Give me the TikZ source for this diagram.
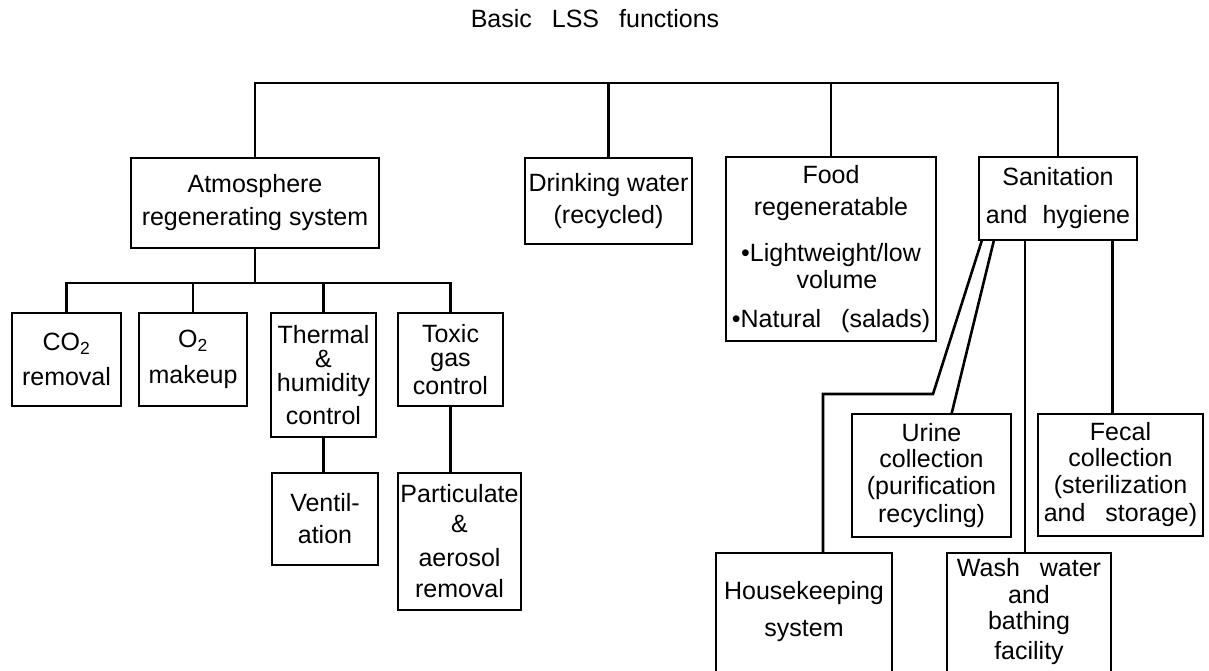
\documentclass[tikz,border=0pt]{standalone}
\usepackage{fontspec}
\setmainfont{Liberation Sans}
\tikzset{box/.style={draw,line width=2.6pt,align=center,inner sep=0pt,outer sep=0pt,anchor=north west},
         openbox/.style={box,draw=none},
         link/.style={line width=2.6pt}
}
\newcommand{\gap}{\hspace{20pt}}

\begin{document}
\begin{tikzpicture}[x=1pt,y=-1pt,font=\fontsize{25}{27}\selectfont]
\useasboundingbox (0,0) rectangle (1209,671);

\node (title) at (595,19) {Basic\gap LSS\gap functions};
\coordinate (bus) at (0,83);
\coordinate (subbus) at (0,283);

% main functions
\node[box,minimum width=248pt,minimum height=90pt] (atmos) at (131,158) {Atmosphere\\[6pt]regenerating system};
\node[box,minimum width=167pt,minimum height=86pt] (drink) at (525,158) {Drinking water\\[5pt](recycled)};
\node[box,minimum width=210pt,minimum height=184pt] (food) at (726,157) {Food\\[5pt]regeneratable\\[19pt]\textbullet Lightweight/low\\\hspace*{12pt}volume\\[12pt]\textbullet Natural\gap(salads)};
\node[box,minimum width=158pt,minimum height=83pt] (sanit) at (979,157) {Sanitation\\[11pt]and\hspace{15pt}hygiene};

% atmosphere subsystems
\node[box,minimum width=109pt,minimum height=93pt] (co2) at (12,313) {CO\textsubscript{2}\\[8pt]removal};
\node[box,minimum width=108pt,minimum height=93pt] (o2) at (139,313) {O\textsubscript{2}\\[9pt]makeup};
\node[box,minimum width=105pt,minimum height=124pt] (thermal) at (271,313) {Thermal\\[-3pt]\&\\[-3pt]humidity\\[6pt]control};
\node[box,minimum width=105pt,minimum height=93pt] (toxic) at (398,313) {Toxic\\[-3pt]gas\\[1pt]control};
\node[box,minimum width=106pt,minimum height=92pt] (vent) at (272,473) {Ventil-\\[5pt]ation};
\node[box,minimum width=123pt,minimum height=137pt] (partic) at (398,473) {Particulate\\[3pt]\&\\[7pt]aerosol\\[4pt]removal};

% sanitation subsystems
\node[box,minimum width=159pt,minimum height=123pt] (urine) at (852,414) {Urine\\[-1pt]collection\\(purification\\[1pt]recycling)};
\node[box,minimum width=165pt,minimum height=122pt] (fecal) at (1038,414) {Fecal\\[-1pt]collection\\(sterilization\\[1pt]and\gap storage)};
\node[openbox,minimum width=176pt,minimum height=118pt] (house) at (716,553) {Housekeeping\\[10pt]system};
\node[openbox,minimum width=164pt,minimum height=118pt] (wash) at (947,553) {Wash\gap water\\and\\[-1pt]bathing\\[3pt]facility};
\draw[link] (house.south west) |- (house.north east) -- (house.south east);
\draw[link] (wash.south west) |- (wash.north east) -- (wash.south east);

% top bus
\draw[link] (atmos.north) -- (atmos.north |- bus) -- (sanit.north |- bus) -- (sanit.north);
\draw[link] (drink.north) -- (drink.north |- bus);
\draw[link] (food.north) -- (food.north |- bus);

% atmosphere bus
\draw[link] (atmos.south) -- (atmos.south |- subbus);
\draw[link] (co2.north) -- (co2.north |- subbus) -- (toxic.north |- subbus) -- (toxic.north);
\draw[link] (o2.north) -- (o2.north |- subbus);
\draw[link] (thermal.north) -- (thermal.north |- subbus);
\draw[link] (thermal.south) -- (thermal.south |- vent.north);
\draw[link] (toxic.south) -- (toxic.south |- partic.north);

% sanitation branches
\coordinate (hkbend) at (933,394);
\coordinate (hktop) at ([xshift=19pt]house.north);
\coordinate (washtop) at ([xshift=-4pt]wash.north);
\coordinate (fecaltop) at ([xshift=-8pt]fecal.north);
\draw[link] ([xshift=3pt]sanit.south west) -- (hkbend) -| (hktop);
\draw[link] ([xshift=15pt]sanit.south west) -- ([xshift=20pt]urine.north);
\draw[link] (washtop |- sanit.south) -- (washtop);
\draw[link] (fecaltop |- sanit.south) -- (fecaltop);

\end{tikzpicture}
\end{document}
